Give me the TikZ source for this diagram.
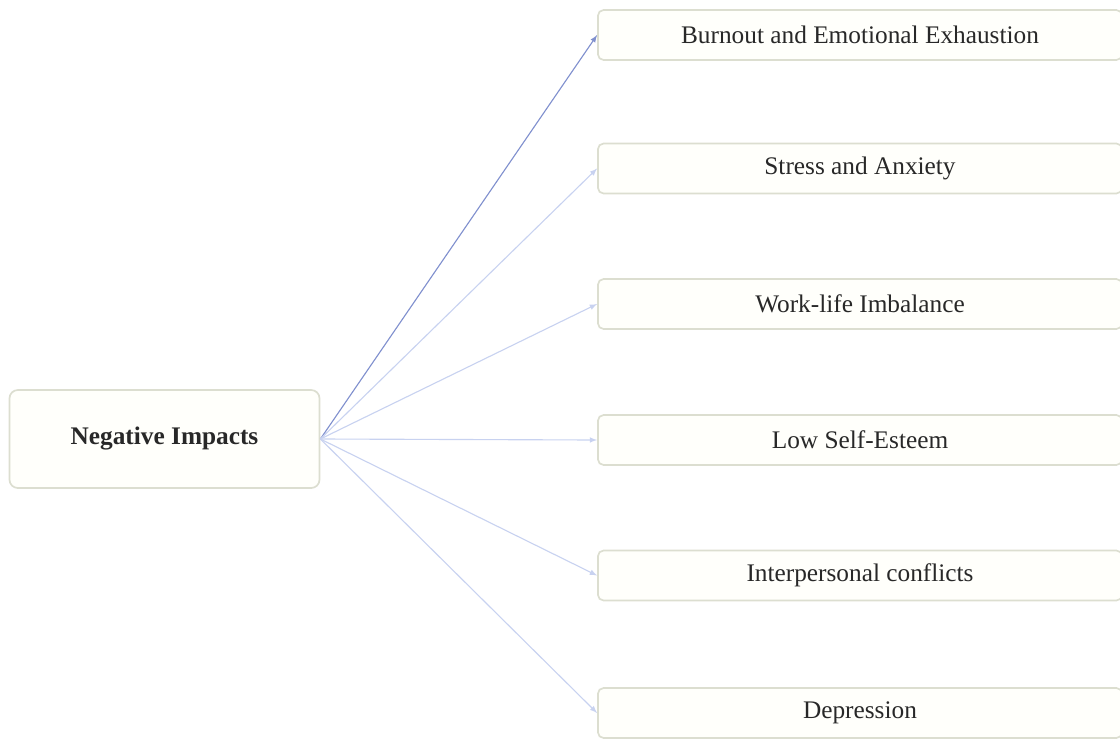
\documentclass[tikz,border=0pt]{standalone}
\usepackage{fontspec}
\setmainfont{Liberation Serif}
\usepackage{xcolor}
\definecolor{boxline}{RGB}{220,222,208}
\definecolor{boxfill}{RGB}{255,255,251}
\definecolor{boxtext}{RGB}{40,40,40}
\definecolor{mainlink}{RGB}{128,144,206}
\definecolor{sidelink}{RGB}{200,210,240}
\tikzstyle{impact}=[draw=boxline, fill=boxfill, text=boxtext, line width=1.2pt, rounded corners=4pt, minimum width=13.1cm, minimum height=1.25cm, font=\fontsize{18}{21}\selectfont]
\tikzstyle{root}=[draw=boxline, fill=boxfill, text=boxtext, line width=1.2pt, rounded corners=6pt, minimum width=7.75cm, minimum height=2.45cm, font=\fontsize{18}{21}\selectfont\bfseries]
\tikzstyle{link}=[-latex, line width=0.8pt]

\begin{document}
\begin{tikzpicture}[x=0.025cm,y=-0.025cm]
  \useasboundingbox (0,0) rectangle (1120,739);
  \draw (164.5,439) node[root] (N0) {Negative Impacts};

  \draw (860,35) node[impact] (I1) {Burnout and Emotional Exhaustion};
  \draw (860,168.5) node[impact] (I2) {Stress and Anxiety};
  \draw (860,304) node[impact] (I3) {Work-life Imbalance};
  \draw (860,440) node[impact] (I4) {Low Self-Esteem};
  \draw (860,575.5) node[impact] (I5) {Interpersonal conflicts};
  \draw (860,713) node[impact] (I6) {Depression};

  \draw[link, color=mainlink] (N0.east) -- (I1.west);
  \draw[link, color=sidelink] (N0.east) -- (I2.west);
  \draw[link, color=sidelink] (N0.east) -- (I3.west);
  \draw[link, color=sidelink] (N0.east) -- (I4.west);
  \draw[link, color=sidelink] (N0.east) -- (I5.west);
  \draw[link, color=sidelink] (N0.east) -- (I6.west);
\end{tikzpicture}
\end{document}
